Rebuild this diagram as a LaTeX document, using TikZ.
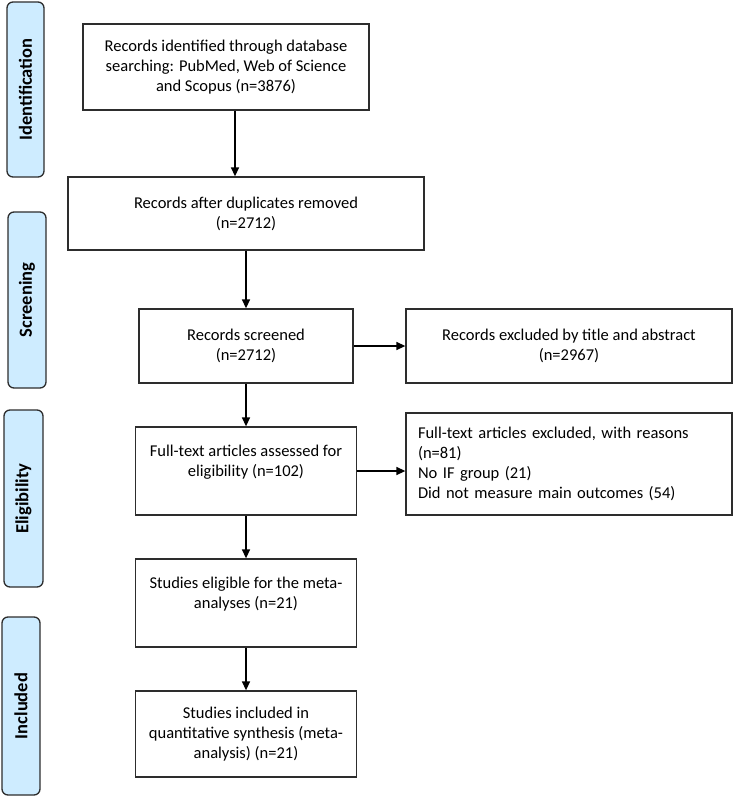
\documentclass[tikz,border=0pt]{standalone}
\usepackage{fontspec}
\setmainfont{Carlito}
\usetikzlibrary{arrows.meta}
\definecolor{tabblue}{RGB}{206,236,255}
\definecolor{edge}{RGB}{45,45,45}
\begin{document}
\begin{tikzpicture}[x=1pt,y=-1pt,
  flowbox/.style={draw=edge, line width=1.3pt, fill=white, inner sep=0pt, align=center,
    font=\fontsize{16.5}{20}\selectfont},
  tabbox/.style={draw=edge, line width=1.3pt, fill=tabblue, rounded corners=6pt, inner sep=0pt,
    rotate=90, font=\fontsize{18.5}{20}\selectfont\bfseries},
  arr/.style={line width=1.4pt, -{Triangle[width=8pt,length=9pt]}}]
\useasboundingbox (0,0) rectangle (734,796);
% phase tabs
\node[tabbox, minimum width=175pt, minimum height=37pt] (tid) at (25.5,89.5) {Identification};
\node[tabbox, minimum width=176pt, minimum height=38pt] (tsc) at (27,300) {Screening};
\node[tabbox, minimum width=177pt, minimum height=39pt] (tel) at (23.5,498.5) {Eligibility};
\node[tabbox, minimum width=178pt, minimum height=38pt] (tin) at (21,706) {Included};
% main boxes
\node[flowbox, minimum width=286pt, minimum height=86pt] (b1) at (226,67)
  {Records identified through database\\searching: PubMed, Web of Science\\and Scopus (n=3876)};
\node[flowbox, minimum width=356pt, minimum height=73pt] (b2) at (246,213.5)
  {Records after duplicates removed\\(n=2712)};
\node[flowbox, minimum width=214pt, minimum height=74pt] (b3) at (246,346)
  {Records screened\\(n=2712)};
\node[flowbox, minimum width=221pt, minimum height=88pt] (b4) at (246,471)
  {Full-text articles assessed for\\eligibility (n=102)\\\mbox{}};
\node[flowbox, minimum width=221pt, minimum height=88pt] (b5) at (246,603)
  {Studies eligible for the meta-\\analyses (n=21)\\\mbox{}};
\node[flowbox, minimum width=221pt, minimum height=86pt] (b6) at (246,734)
  {Studies included in\\quantitative synthesis (meta-\\analysis) (n=21)};
% side boxes
\node[flowbox, minimum width=326pt, minimum height=74pt] (r1) at (569,346)
  {Records excluded by title and abstract\\(n=2967)};
\node[flowbox, text width=302pt, inner xsep=12pt, minimum height=102pt, align=left] (r2) at (569,464)
  {Full-text articles excluded, with reasons\\(n=81)\\No IF group (21)\\Did not measure main outcomes (54)};
% connectors
\draw[arr] ([xshift=9pt]b1.south) -- ([xshift=9pt]b1.south |- b2.north);
\draw[arr] (b2.south) -- (b3.north);
\draw[arr] (b3.south) -- (b4.north);
\draw[arr] (b4.south) -- (b5.north);
\draw[arr] (b5.south) -- (b6.north);
\draw[arr] (b3.east) -- (b3.east -| r1.west);
\draw[arr] (b4.east) -- (b4.east -| r2.west);
\end{tikzpicture}
\end{document}
